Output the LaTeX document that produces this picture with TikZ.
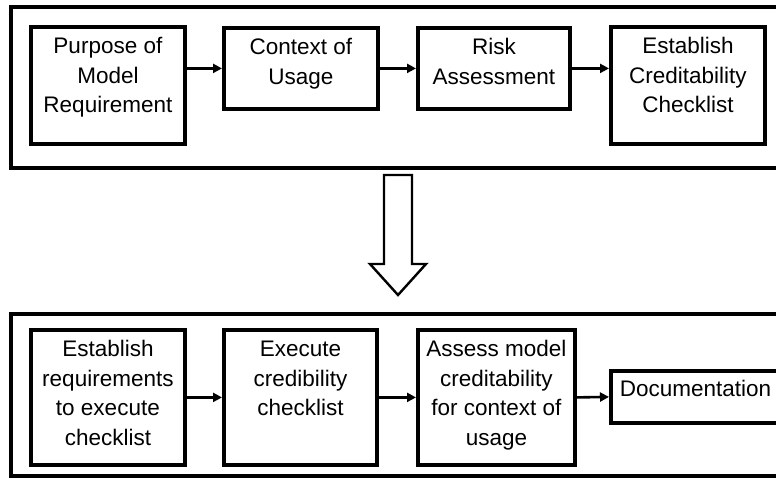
\documentclass[tikz,border=0pt]{standalone}
\usepackage{fontspec}
\setmainfont{Liberation Sans}
\usetikzlibrary{arrows.meta}

% box text: width, height, centred lines starting from the top
\newcommand\boxlines[3]{\parbox[c][#2][t]{#1}{\centering\rule{0pt}{27pt}#3\par}}

\tikzset{
  frame/.style={line width=3.6pt},
  stepbox/.style={draw, line width=3.8pt, inner sep=0pt, anchor=north west,
                  font=\fontsize{22.5}{29.5}\selectfont},
  link/.style={line width=2.6pt, -{Triangle[length=9pt,width=9pt]}},
  bigarrow/.style={line width=2.4pt, fill=white, line join=miter}
}

\begin{document}
\begin{tikzpicture}[x=1pt, y=-1pt]
  \useasboundingbox (0,0) rectangle (776,478);
  \clip (0,0) rectangle (776,478);
  \fill[white] (0,0) rectangle (776,478);

  % outer frames
  \draw[frame] (11,7) rectangle (800,168);
  \draw[frame] (11,314) rectangle (800,476);

  % first stage
  \node[stepbox] (t1) at (29,25)  {\boxlines{154pt}{117pt}{Purpose of\\Model\\Requirement}};
  \node[stepbox] (t2) at (222,26) {\boxlines{154pt}{81pt}{Context of\\Usage}};
  \node[stepbox] (t3) at (416,26) {\boxlines{152pt}{81pt}{Risk\\Assessment}};
  \node[stepbox] (t4) at (609,25) {\boxlines{154pt}{117pt}{Establish\\Creditability\\Checklist}};

  \draw[link] (t1.east |- t2.west) -- (t2.west);
  \draw[link] (t2.east) -- (t3.west);
  \draw[link] (t3.east) -- (t4.west |- t3.east);

  % transition arrow
  \draw[bigarrow] (384,175) -- (412,175) -- (412,264) -- (426,264) -- (398,295)
                  -- (370,264) -- (384,264) -- cycle;

  % second stage
  \node[stepbox] (b1) at (29,328)  {\boxlines{154pt}{135pt}{Establish\\requirements\\to execute\\checklist}};
  \node[stepbox] (b2) at (222,328) {\boxlines{153pt}{135pt}{Execute\\credibility\\checklist}};
  \node[stepbox] (b3) at (416,328) {\boxlines{157pt}{135pt}{Assess model\\creditability\\for context of\\usage}};
  \node[stepbox] (b4) at (609,369) {\parbox[c][52pt][t]{191pt}{\hspace*{9pt}\rule{0pt}{26pt}Documentation}};

  \draw[link] (b1.east) -- (b2.west);
  \draw[link] (b2.east) -- (b3.west);
  \draw[link] (b3.east) -- (b4.west);
\end{tikzpicture}
\end{document}
